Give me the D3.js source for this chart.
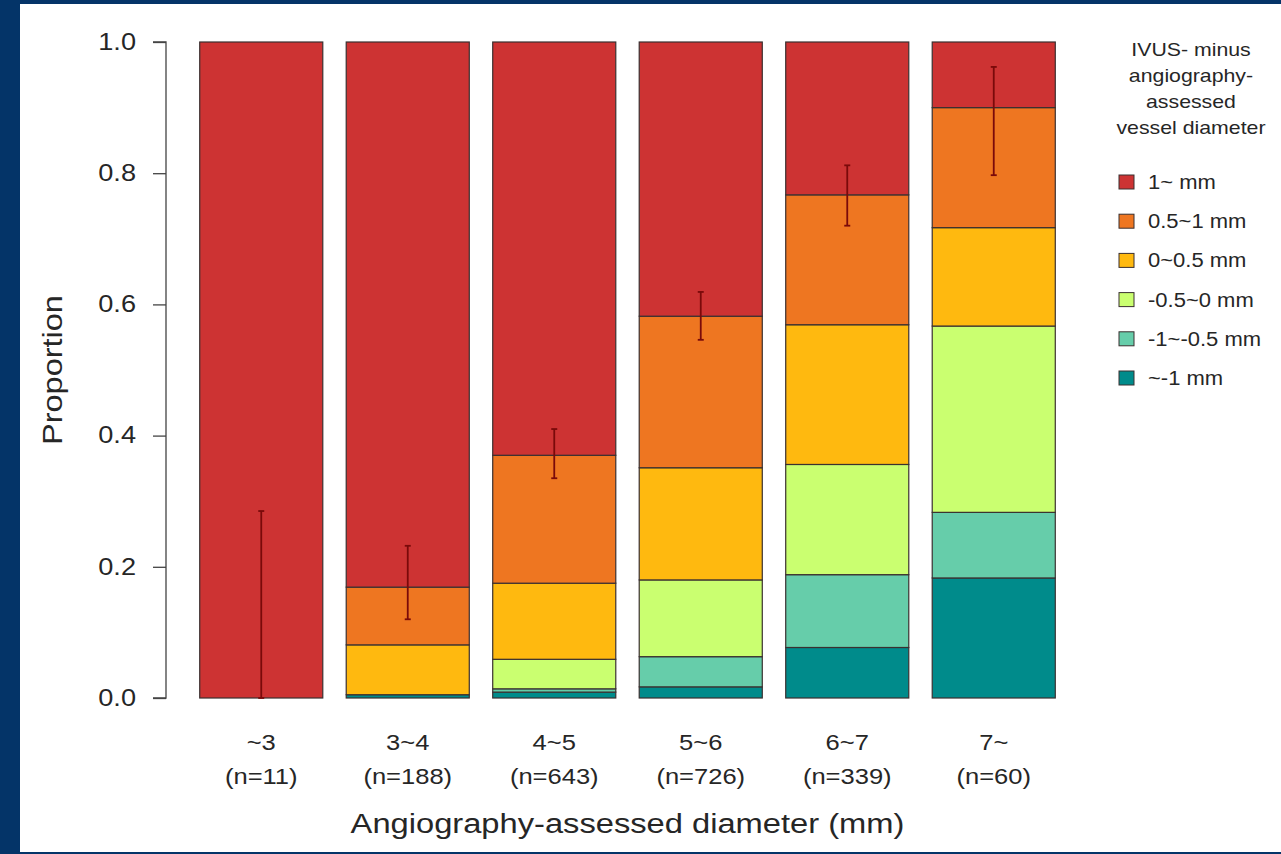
<!DOCTYPE html>
<html>
<head>
<meta charset="utf-8">
<script src="https://cdn.jsdelivr.net/npm/d3@7"></script>
<style>
  html, body { margin: 0; padding: 0; background: #043468; }
  svg { display: block; }
  text { font-family: "Liberation Sans", Arial, sans-serif; fill: #262626; }
</style>
</head>
<body>
<svg id="chart" width="1281" height="854"></svg>
<script>
// categories on the x axis and sample sizes
var categories = ["~3", "3~4", "4~5", "5~6", "6~7", "7~"];
var sampleSizes = [11, 188, 643, 726, 339, 60];

// series, stacked bottom to top
var seriesNames = ["~-1 mm", "-1~-0.5 mm", "-0.5~0 mm", "0~0.5 mm", "0.5~1 mm", "1~ mm"];
var seriesColors = ["#008b8b", "#66cdaa", "#caff70", "#ffb90f", "#ee7621", "#cd3333"];

// proportion of each series per category
var belowM1 = [0, 0.005, 0.009, 0.017, 0.077, 0.183];
var m1toM05 = [0, 0, 0.005, 0.046, 0.111, 0.100];
var m05to0 = [0, 0, 0.045, 0.117, 0.168, 0.284];
var p0to05 = [0, 0.076, 0.116, 0.171, 0.213, 0.150];
var p05to1 = [0, 0.088, 0.195, 0.231, 0.198, 0.183];
var above1 = [1, 0.831, 0.630, 0.418, 0.233, 0.100];

// 95% CI of the cumulative proportion below 1 mm
var ciLow = [0, 0.120, 0.335, 0.546, 0.720, 0.797];
var ciHigh = [0.285, 0.232, 0.410, 0.619, 0.812, 0.962];

var yTicks = [0, 0.2, 0.4, 0.6, 0.8, 1.0];
var legendTitle = ["IVUS- minus", "angiography-", "assessed", "vessel diameter"];

var seriesValues = [belowM1, m1toM05, m05to0, p0to05, p05to1, above1];
var table = categories.map(function(c, i) {
    var row = {cat: c, n: sampleSizes[i]};
    seriesNames.forEach(function(s, j) { row[s] = seriesValues[j][i]; });
    return row;
});

// stretch text horizontally a bit (reference text is wide)
function stretch(sel, k) {
    sel.each(function() {
        var len = this.getComputedTextLength();
        d3.select(this).attr("textLength", len * k).attr("lengthAdjust", "spacingAndGlyphs");
    });
}

var svg = d3.select("#chart");

// white panel
svg.append("rect")
    .attr("x", 20).attr("y", 4)
    .attr("width", 1261).attr("height", 848)
    .attr("fill", "#ffffff");

var x = d3.scaleBand()
    .domain(categories)
    .range([188, 1067])
    .paddingInner(0.16)
    .paddingOuter(0.08);

var y = d3.scaleLinear()
    .domain([0, 1])
    .range([698, 42]);

var color = d3.scaleOrdinal().domain(seriesNames).range(seriesColors);

var stacked = d3.stack().keys(seriesNames)(table);

// stacked bars
var layers = svg.append("g").attr("class", "bars")
    .selectAll("g")
    .data(stacked)
    .enter().append("g")
    .attr("fill", function(d) { return color(d.key); });

layers.selectAll("rect")
    .data(function(d) { return d; })
    .enter().append("rect")
    .filter(function(d) { return d[1] - d[0] > 0; })
    .attr("x", function(d) { return x(d.data.cat); })
    .attr("y", function(d) { return y(d[1]); })
    .attr("width", x.bandwidth())
    .attr("height", function(d) { return y(d[0]) - y(d[1]); })
    .attr("stroke", "#3a3030")
    .attr("stroke-width", 1.2);

// error bars
var err = svg.append("g").attr("class", "errors")
    .selectAll("g")
    .data(categories)
    .enter().append("g")
    .attr("stroke", "#7a0a0a")
    .attr("stroke-width", 1.8);

err.append("line")
    .attr("x1", function(d) { return x(d) + x.bandwidth() / 2; })
    .attr("x2", function(d) { return x(d) + x.bandwidth() / 2; })
    .attr("y1", function(d, i) { return y(ciLow[i]); })
    .attr("y2", function(d, i) { return y(ciHigh[i]); });

err.selectAll("line.cap")
    .data(function(d, i) { return [[d, ciLow[i]], [d, ciHigh[i]]]; })
    .enter().append("line")
    .attr("class", "cap")
    .attr("x1", function(d) { return x(d[0]) + x.bandwidth() / 2 - 3; })
    .attr("x2", function(d) { return x(d[0]) + x.bandwidth() / 2 + 3; })
    .attr("y1", function(d) { return y(d[1]); })
    .attr("y2", function(d) { return y(d[1]); });

// y axis
var yAxis = d3.axisLeft(y)
    .tickValues(yTicks)
    .tickFormat(d3.format(".1f"))
    .tickSize(13)
    .tickPadding(17);

var yg = svg.append("g")
    .attr("class", "yAxis")
    .attr("transform", "translate(166,0)")
    .call(yAxis);
yg.select(".domain").attr("stroke", "#444").attr("stroke-width", 1.3)
    .attr("d", "M-13," + y(0) + "H0V" + y(1) + "H-13");
yg.selectAll(".tick line").attr("stroke", "#444").attr("stroke-width", 1.3);
yg.selectAll(".tick text")
    .style("font-size", "23px")
    .attr("fill", "#262626")
    .attr("font-family", null)
    .call(stretch, 1.18);

svg.append("text")
    .attr("transform", "translate(62," + ((y(0) + y(1)) / 2) + ") rotate(-90)")
    .attr("text-anchor", "middle")
    .style("font-size", "28px")
    .text("Proportion")
    .call(stretch, 1.16);

// category labels (no axis line in the reference)
var xg = svg.append("g").attr("class", "xAxis");
var catLabels = xg.selectAll("g")
    .data(table)
    .enter().append("g")
    .attr("transform", function(d) { return "translate(" + (x(d.cat) + x.bandwidth() / 2) + ",0)"; });

catLabels.append("text")
    .attr("y", 750)
    .attr("text-anchor", "middle")
    .style("font-size", "22px")
    .text(function(d) { return d.cat; })
    .call(stretch, 1.16);

catLabels.append("text")
    .attr("y", 784)
    .attr("text-anchor", "middle")
    .style("font-size", "22px")
    .text(function(d) { return "(n=" + d.n + ")"; })
    .call(stretch, 1.16);

svg.append("text")
    .attr("x", x("~3") + (x("7~") + x.bandwidth() - x("~3")) / 2)
    .attr("y", 833)
    .attr("text-anchor", "middle")
    .style("font-size", "27px")
    .text("Angiography-assessed diameter (mm)")
    .call(stretch, 1.21);

// legend
var legend = svg.append("g").attr("class", "legend");

legend.selectAll("text.title")
    .data(legendTitle)
    .enter().append("text")
    .attr("class", "title")
    .attr("x", 1191)
    .attr("y", function(d, i) { return 56 + i * 26; })
    .attr("text-anchor", "middle")
    .style("font-size", "19px")
    .text(function(d) { return d; })
    .call(stretch, 1.12);

var items = legend.selectAll("g.item")
    .data(seriesNames.slice().reverse())
    .enter().append("g")
    .attr("class", "item")
    .attr("transform", function(d, i) { return "translate(1119," + (182 + i * 39.2) + ")"; });

items.append("rect")
    .attr("x", 0).attr("y", -7)
    .attr("width", 15).attr("height", 14)
    .attr("fill", function(d) { return color(d); })
    .attr("stroke", "#3a3030")
    .attr("stroke-width", 1);

items.append("text")
    .attr("x", 29)
    .attr("y", 7)
    .style("font-size", "20px")
    .text(function(d) { return d; })
    .call(stretch, 1.1);
</script>
</body>
</html>
